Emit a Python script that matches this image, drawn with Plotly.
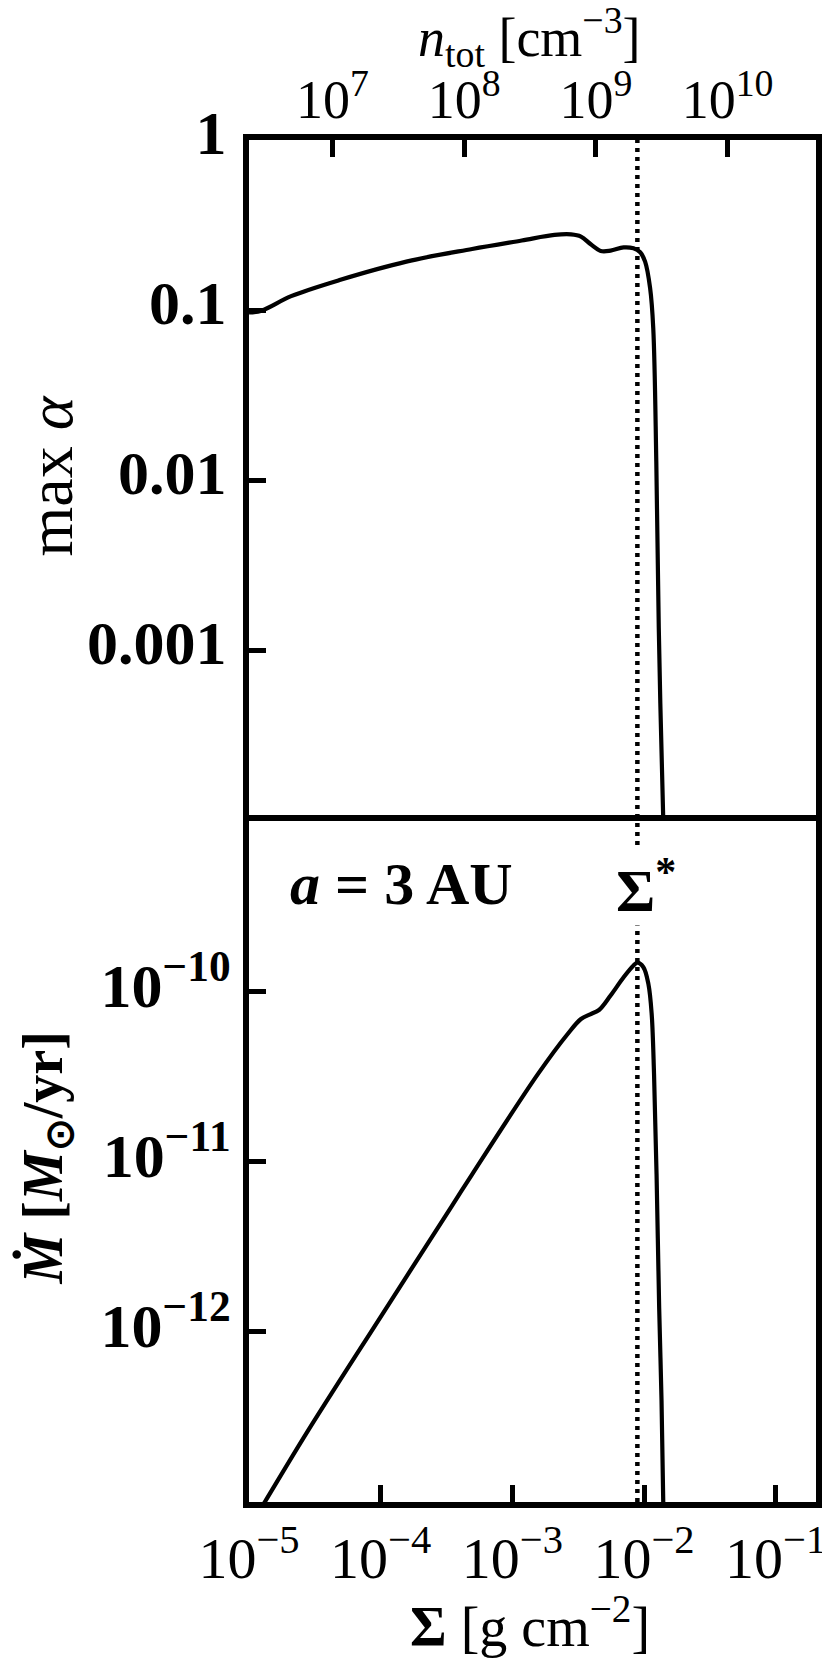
import numpy as np
import plotly.graph_objects as go

# surface density [g cm^-2] and max alpha (upper panel)
sigma_alpha = [1.00e-5, 1.245e-5, 2.09e-5, 4.95e-5, 1.567e-4, 4.95e-4, 1.178e-3,
               2.09e-3, 2.79e-3, 3.32e-3, 3.94e-3, 4.69e-3, 5.57e-3, 7.00e-3,
               8.32e-3, 9.35e-3, 1.019e-2, 1.112e-2, 1.175e-2, 1.239e-2,
               1.294e-2, 1.400e-2, 1.422e-2]
max_alpha = [0.097, 0.0995, 0.121, 0.151, 0.193, 0.229, 0.257,
             0.277, 0.279, 0.271, 0.244, 0.223, 0.224, 0.234,
             0.231, 0.219, 0.193, 0.135, 0.0786, 0.0130,
             1.37e-3, 1.01e-4, 8.0e-5]

# surface density and accretion rate [Msun/yr] (lower panel)
sigma_mdot = [1.18e-5, 1.318e-5, 2.786e-5, 9.89e-5, 3.41e-4, 4.95e-4, 1.567e-3,
              2.63e-3, 3.32e-3, 3.94e-3, 4.55e-3, 5.57e-3, 7.00e-3, 8.32e-3,
              8.91e-3, 9.89e-3, 1.079e-2, 1.143e-2, 1.191e-2, 1.245e-2,
              1.303e-2, 1.358e-2, 1.406e-2]
mdot = [8.7e-14, 1.0e-13, 2.60e-13, 1.208e-12, 5.36e-12, 8.41e-12, 3.27e-11,
        5.61e-11, 6.87e-11, 7.35e-11, 7.76e-11, 9.44e-11, 1.208e-10, 1.416e-10,
        1.472e-10, 1.384e-10, 1.104e-10, 7.35e-11, 3.27e-11, 8.41e-12,
        1.384e-12, 3.93e-13, 8.05e-14]

SIGMA_STAR = 8.9e-3          # critical surface density
N_PER_SIGMA = 2.32e11        # n_tot / Sigma conversion for the top axis

sigma_ticks = [1e-5, 1e-4, 1e-3, 1e-2, 1e-1]
sigma_labels = ["10<sup>−5</sup>", "10<sup>−4</sup>", "10<sup>−3</sup>",
                "10<sup>−2</sup>", "10<sup>−1</sup>"]
n_ticks = [1e7, 1e8, 1e9, 1e10]
n_labels = ["10<sup>7</sup>", "10<sup>8</sup>", "10<sup>9</sup>", "10<sup>10</sup>"]
alpha_ticks = [1e-3, 1e-2, 1e-1, 1]
alpha_labels = ["0.001", "0.01", "0.1", "1"]
mdot_ticks = [1e-12, 1e-11, 1e-10]
mdot_labels = ["10<sup>−12</sup>", "10<sup>−11</sup>", "10<sup>−10</sup>"]

W, H = 830, 1661
L, R, T, B = 241, 15, 132, 167
PW, PH = W - L - R, H - T - B
FONT = "Liberation Serif"


def px(x):
    return (x - L) / PW


def py(y):
    return (H - B - y) / PH


line = dict(color="black", width=4.2)
fig = go.Figure()
fig.add_trace(go.Scatter(x=sigma_alpha, y=max_alpha, mode="lines", line=line,
                         line_shape="spline", xaxis="x2", yaxis="y2"))
fig.add_trace(go.Scatter(x=[s * N_PER_SIGMA for s in sigma_alpha], y=max_alpha,
                         mode="lines", line=dict(color="rgba(0,0,0,0)"),
                         xaxis="x3", yaxis="y2", hoverinfo="skip"))
fig.add_trace(go.Scatter(x=sigma_mdot, y=mdot, mode="lines", line=line,
                         line_shape="spline", xaxis="x", yaxis="y"))

fig.add_shape(type="line", xref="x", yref="paper", x0=SIGMA_STAR, x1=SIGMA_STAR,
              y0=0, y1=1, line=dict(color="black", width=4.5, dash="4px,5px"))

sigma_range = [-5, -0.694]
common = dict(showline=True, linewidth=6, linecolor="black", showgrid=False,
              zeroline=False)
tick_style = dict(ticks="inside", ticklen=17, tickwidth=4.5, tickcolor="black")

fig.update_layout(
    width=W, height=H, margin=dict(l=L, r=R, t=T, b=B),
    plot_bgcolor="white", paper_bgcolor="white", showlegend=False,
    xaxis=dict(**common, **tick_style, type="log", range=sigma_range,
               anchor="y", mirror=True,
               tickvals=sigma_ticks, ticktext=sigma_labels,
               tickfont=dict(family=FONT, size=58, color="black")),
    xaxis2=dict(type="log", range=sigma_range, anchor="y2", matches="x",
                showticklabels=False, ticks="", showline=False,
                showgrid=False, zeroline=False),
    xaxis3=dict(**common, **tick_style, type="log", overlaying="x2",
                anchor="y2", side="top",
                range=[np.log10(1e-5 * N_PER_SIGMA),
                       np.log10(10 ** sigma_range[1] * N_PER_SIGMA)],
                tickvals=n_ticks, ticktext=n_labels,
                tickfont=dict(family=FONT, size=54, color="black"),
                ticklabelstandoff=-6),
    yaxis=dict(**common, **tick_style, type="log", range=[-13, -9],
               domain=[0, 0.5], anchor="x", mirror=True,
               tickvals=mdot_ticks, ticktext=mdot_labels,
               tickfont=dict(family=FONT, size=62, color="black",
                             weight="bold"),
               ticklabelshift=-6),
    yaxis2=dict(**common, **tick_style, type="log", range=[-4, 0],
                domain=[0.5, 1], anchor="x2", mirror=True,
                tickvals=alpha_ticks, ticktext=alpha_labels,
                tickfont=dict(family=FONT, size=62, color="black",
                              weight="bold"),
                ticklabelstandoff=4, ticklabelshift=-8),
)

ann = dict(showarrow=False, font=dict(family=FONT, size=56, color="black"))
fig.add_annotation(ann, text="<i>n</i><sub>tot</sub> [cm<sup>−3</sup>]",
                   font_size=54, xref="paper", yref="paper", x=px(525),
                   y=py(29), xanchor="center", yanchor="middle")
fig.add_annotation(ann, text="<b>Σ</b> [g cm<sup>−2</sup>]",
                   xref="paper", yref="paper", x=px(525), y=py(1614),
                   xanchor="center", yanchor="middle")
fig.add_annotation(ann, text="max <i>α</i>", textangle=-90, font_size=64,
                   xref="paper", yref="paper", x=px(40), y=py(468),
                   xanchor="center", yanchor="middle")
fig.add_annotation(ann, text="<b><i>Ṁ</i> [<i>M</i><sub>⊙</sub>/yr]</b>",
                   textangle=-90, xref="paper", yref="paper", x=px(36),
                   y=py(1150), xanchor="center", yanchor="middle")
fig.add_annotation(ann, text="<b><i>a</i> = 3 AU</b>", font_size=60,
                   xref="paper", yref="paper", x=px(280), y=py(876),
                   xanchor="left", yanchor="middle")
fig.add_annotation(ann, text="<b>Σ<sup>*</sup></b>", font_size=60, xref="x",
                   yref="paper", x=np.log10(SIGMA_STAR), y=py(878),
                   xanchor="center", yanchor="middle", xshift=9,
                   bgcolor="white")

fig.write_html("out.html")
